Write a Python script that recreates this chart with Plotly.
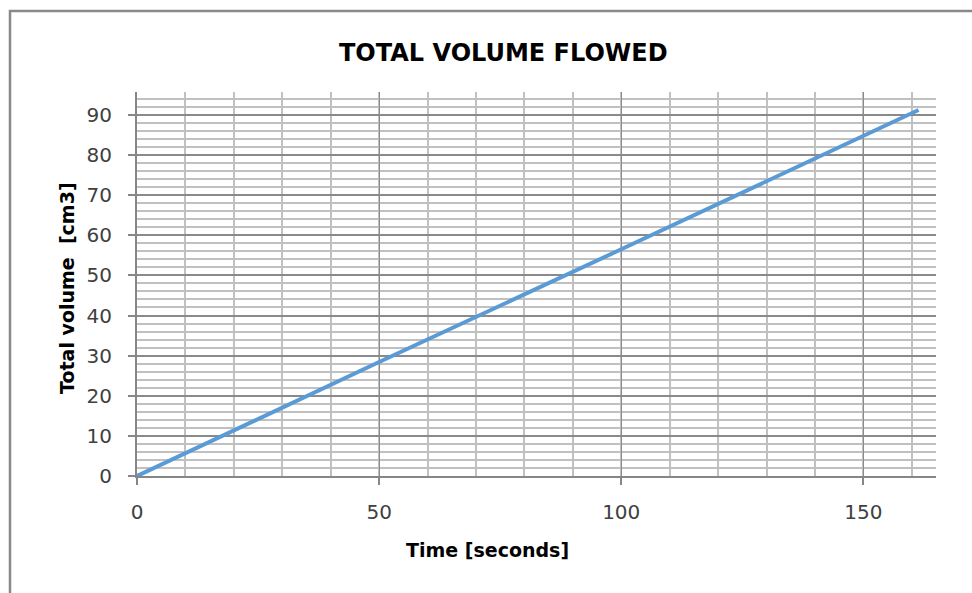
import plotly.graph_objects as go

# Cumulative volume readings over time
time_s = [0, 50, 100, 150, 161.4]
volume_cm3 = [0, 28.4, 56.5, 84.8, 91.2]

x_ticks = [0, 50, 100, 150]
y_ticks = [0, 10, 20, 30, 40, 50, 60, 70, 80, 90]

W, H = 972, 593
L, R, T, B = 137, 36, 92, 117
pw, ph = W - L - R, H - T - B


def px_x(px):
    return (px - L) / pw


def px_y(py):
    return (H - B - py) / ph


fig = go.Figure()
fig.add_trace(go.Scatter(
    x=time_s, y=volume_cm3, mode="lines",
    line=dict(color="#5B9BD5", width=4),
    hoverinfo="x+y", showlegend=False,
))

tick_font = dict(family="DejaVu Sans", size=20, color="#404040")
title_font = dict(family="DejaVu Sans", size=19, color="#000000")

fig.update_xaxes(
    range=[0, 165], tickvals=x_ticks, ticktext=[str(v) for v in x_ticks],
    showline=True, linecolor="#868686", linewidth=2,
    ticks="outside", ticklen=7, tickcolor="#868686", tickwidth=1.5,
    showgrid=True, gridcolor="#8a8a8a", gridwidth=1.2,
    minor=dict(dtick=10, showgrid=True, gridcolor="#c0c0c0", gridwidth=2, ticks=""),
    tickfont=tick_font, ticklabelstandoff=10, zeroline=False,
)
fig.update_yaxes(
    range=[0, 95.7], tickvals=y_ticks, ticktext=[str(v) for v in y_ticks],
    showline=True, linecolor="#868686", linewidth=2,
    ticks="outside", ticklen=7, tickcolor="#868686", tickwidth=1.5,
    showgrid=True, gridcolor="#8a8a8a", gridwidth=2,
    minor=dict(dtick=2, showgrid=True, gridcolor="#c0c0c0", gridwidth=2, ticks=""),
    tickfont=tick_font, ticklabelstandoff=12, zeroline=False,
)

annotations = [
    dict(text="<b>TOTAL VOLUME FLOWED</b>", x=px_x(503), y=px_y(53),
         font=dict(family="DejaVu Sans", size=24, color="#000000")),
    dict(text="<b>Time [seconds]</b>", x=px_x(487), y=px_y(550), font=title_font),
    dict(text="<b>Total volume  [cm3]</b>", x=px_x(67), y=px_y(288),
         font=title_font, textangle=-90),
]
for a in annotations:
    a.update(xref="paper", yref="paper", showarrow=False,
             xanchor="center", yanchor="middle")

fig.update_layout(
    width=W, height=H,
    margin=dict(l=L, r=R, t=T, b=B),
    paper_bgcolor="white", plot_bgcolor="white",
    annotations=annotations,
    shapes=[dict(type="rect", xref="paper", yref="paper",
                 x0=px_x(10), x1=px_x(W + 20), y0=px_y(H + 20), y1=px_y(11),
                 line=dict(color="#898989", width=2.5), fillcolor="rgba(0,0,0,0)",
                 layer="below")],
)

fig.write_html("out.html")
